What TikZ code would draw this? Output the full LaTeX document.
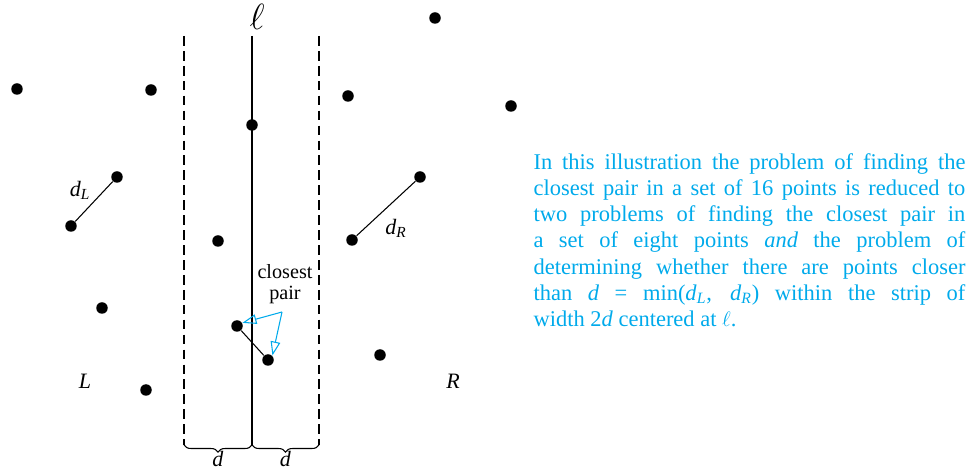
\documentclass[tikz,border=0pt]{standalone}
\usepackage{fontspec}
\setmainfont{Liberation Serif}
\usetikzlibrary{arrows.meta,decorations.pathreplacing}
\definecolor{textcyan}{RGB}{0,170,235}

\begin{document}
\begin{tikzpicture}[x=0.02cm,y=-0.02cm,line width=0.6pt]
\useasboundingbox (0,0) rectangle (973,475);
% Stili
\tikzstyle{dot} = [
    circle,
    fill,
    inner sep=0pt,
    minimum size=0.23cm
]

\tikzstyle{strip} = [
    dash pattern=on 5.5pt off 3pt
]

\tikzstyle{callout} = [
    textcyan,
    -{Triangle[open,length=8pt,width=5.5pt]}
]

\tikzstyle{lbl} = [
    font=\fontsize{12.5}{14}\selectfont
]

% Punti a sinistra
\node[dot] (l1) at (17,89) {};
\node[dot] (l2) at (151,90) {};
\node[dot] (l3) at (117,177) {};
\node[dot] (l4) at (71,226) {};
\node[dot] (l5) at (102,308) {};
\node[dot] (l6) at (146,390) {};
\node[dot] (l7) at (218,241) {};
\node[dot] (l8) at (237,326) {};

% Punti a destra
\node[dot] (r1) at (252,125) {};
\node[dot] (r2) at (268,360) {};
\node[dot] (r3) at (435,18) {};
\node[dot] (r4) at (348,96) {};
\node[dot] (r5) at (511,106) {};
\node[dot] (r6) at (420,177) {};
\node[dot] (r7) at (352,240) {};
\node[dot] (r8) at (380,355) {};

% Linea e striscia
\coordinate (lt) at (252,36);
\coordinate (lb) at (252,445);
\coordinate (st1) at (184,36);
\coordinate (sb1) at (184,445);
\coordinate (st2) at (319,36);
\coordinate (sb2) at (319,445);

\draw (lt) -- (lb);
\draw[strip] (st1) -- (sb1);
\draw[strip] (st2) -- (sb2);

\node[font=\fontsize{20}{22}\selectfont] (ell) at (257,17) {$\ell$};

% Graffe
\draw[decorate,decoration={brace,mirror,amplitude=4pt}]
    (sb1) -- node[lbl,below=2pt,inner sep=1pt] {\textit{d}} (lb);
\draw[decorate,decoration={brace,mirror,amplitude=4pt}]
    (lb) -- node[lbl,below=2pt,inner sep=1pt] {\textit{d}} (sb2);

% Coppie
\draw (l3) -- (l4);
\draw (r6) -- (r7);
\draw (l8) -- (r2);

\node[lbl] (dl) at (80,190) {\textit{d}\textsubscript{\textit{L}}};
\node[lbl] (dr) at (396,228) {\textit{d}\textsubscript{\textit{R}}};
\node[lbl] (L) at (85,381) {\textit{L}};
\node[lbl] (R) at (453,381) {\textit{R}};

% Coppia piu vicina
\node[font=\fontsize{11.5}{13}\selectfont,align=center,inner sep=0pt] (cpair) at (285,284)
{closest\\[-1pt]pair};
\coordinate (cp) at (282,312);
\draw[callout] (cp) -- (l8.30);
\draw[callout] (cp) -- (r2.45);

% Testo
\node[textcyan,anchor=north west,inner sep=0pt,text width=8.64cm,
    align=justify,font=\fontsize{12.8}{14.9}\selectfont] (txt) at (533,153)
{In this illustration the problem of finding the\linebreak
closest pair in a set of 16 points is reduced to\linebreak
two problems of finding the closest pair in\linebreak
a set of eight points \textit{and} the problem of\linebreak
determining whether there are points closer\linebreak
than \textit{d} = min(\textit{d}\textsubscript{\textit{L}},
\textit{d}\textsubscript{\textit{R}}) within the strip of\linebreak
width 2\textit{d} centered at $\ell$.};

\end{tikzpicture}
\end{document}
